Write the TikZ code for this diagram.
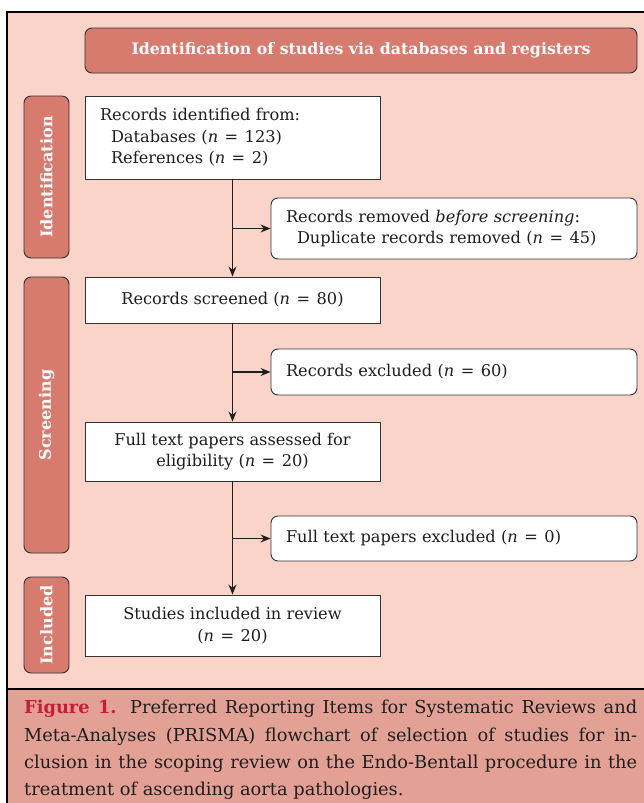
\documentclass[tikz,border=0pt]{standalone}
\usepackage{fontspec}
\setmainfont{DejaVu Serif}
\usetikzlibrary{arrows.meta}
\definecolor{bgpink}{HTML}{FAD3C9}
\definecolor{barred}{HTML}{D87B6F}
\definecolor{capband}{HTML}{E3A196}
\definecolor{figred}{HTML}{C41E3A}
\definecolor{edge}{HTML}{333333}
\definecolor{ink}{HTML}{1E1E1E}
\tikzset{
  mainbox/.style={draw=edge, line width=0.9pt, fill=white, minimum width=295pt, inner sep=0pt, text=ink, font=\fontsize{16.2}{21.5}\selectfont},
  sidebox/.style={draw=edge, line width=0.9pt, fill=white, rounded corners=7pt, minimum width=366pt, inner sep=0pt, text=ink, font=\fontsize{16.2}{21.5}\selectfont},
  phasebar/.style={draw=edge, line width=0.9pt, fill=barred, rounded corners=7pt, minimum width=45pt, inner sep=0pt, text=white, font=\bfseries\fontsize{16}{18}\selectfont},
  flowarrow/.style={draw=ink, line width=1.2pt, -{Stealth[length=10pt,width=8pt]}},
}
\newcommand{\nn}{\textit{n}}
\newcommand{\eqs}{\hspace{0.4em}=\hspace{0.4em}}
\begin{document}
\begin{tikzpicture}[x=1pt,y=-1pt]
\useasboundingbox (0,0) rectangle (644,803);
% background
\fill[white] (0,0) rectangle (644,803);
\fill[bgpink] (7,12) rectangle (644,689);
\fill[capband] (7,689) rectangle (644,803);
\draw[black, line width=1.3pt] (7,689) -- (644,689);
\draw[black, line width=2.6pt] (7,803) -- (7,12) -- (644,12);

% header
\node[draw=edge, line width=0.9pt, fill=barred, rounded corners=7pt, minimum width=552pt, minimum height=45pt, inner sep=0pt, text=white, font=\bfseries\fontsize{15.8}{18}\selectfont] (head) at (361,50.5) {Identification of studies via databases and registers};

% phase bars
\node[phasebar, minimum height=162pt] (pid) at (46.5,177) {\rotatebox{90}{Identification}};
\node[phasebar, minimum height=276pt] (psc) at (46.5,415) {\rotatebox{90}{Screening}};
\node[phasebar, minimum height=96pt] (pin) at (46.5,625) {\rotatebox{90}{Included}};

% main boxes
\node[mainbox, minimum height=83pt, text width=265pt, align=left] (b1) at (232.5,137.5)
  {Records identified from:\\\hspace*{11pt}Databases (\nn\eqs 123)\\\hspace*{11pt}References (\nn\eqs 2)};
\node[mainbox, minimum height=46pt, align=center] (b2) at (232.5,300) {Records screened (\nn\eqs 80)};
\node[mainbox, minimum height=59pt, align=center] (b3) at (232.5,451.5) {Full text papers assessed for\\eligibility (\nn\eqs 20)};
\node[mainbox, minimum height=61pt, align=center] (b4) at (232.5,625.5) {Studies included in review\\(\nn\eqs 20)};

% side boxes
\node[sidebox, minimum height=61pt, text width=336pt, align=left] (r1) at (454,228.5)
  {Records removed \textit{before screening}:\\\hspace*{11pt}Duplicate records removed (\nn\eqs 45)};
\node[sidebox, minimum height=46pt, text width=336pt, align=left] (r2) at (454,372) {Records excluded (\nn\eqs 60)};
\node[sidebox, minimum height=45pt, text width=336pt, align=left] (r3) at (454,538.5) {Full text papers excluded (\nn\eqs 0)};

% arrows
\draw[flowarrow] (b1) -- (b2);
\draw[flowarrow] (b2) -- (b3);
\draw[flowarrow] (b3) -- (b4);
\draw[flowarrow] (b1.south |- r1.west) -- (r1.west);
\draw[flowarrow] (b2.south |- r2.west) -- (r2.west);
\draw[flowarrow] (b3.south |- r3.west) -- (r3.west);

% caption
\node[anchor=north west, inner sep=0pt, text width=613pt, align=justify, text=ink, font=\fontsize{17.8}{27.3}\selectfont] (cap) at (24,700)
  {{\color{figred}\bfseries Figure 1.} Preferred Reporting Items for Systematic Reviews and\linebreak Meta-Analyses (PRISMA) flowchart of selection of studies for in-\linebreak clusion in the scoping review on the Endo-Bentall procedure in the\linebreak treatment of ascending aorta pathologies.\par};
\end{tikzpicture}
\end{document}
